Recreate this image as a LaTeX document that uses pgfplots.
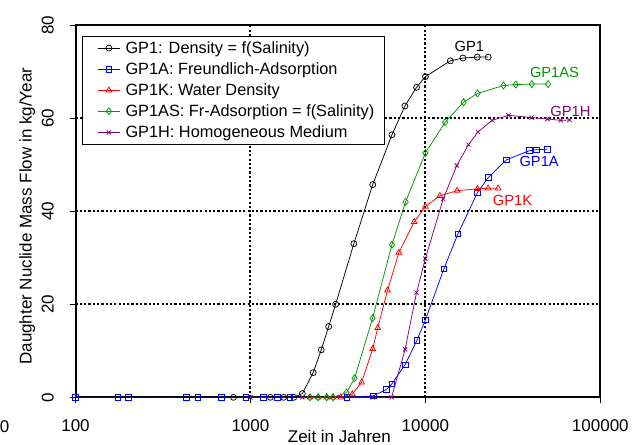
\documentclass[border=0pt]{standalone}
\usepackage{fontspec}
\setmainfont{Liberation Sans}
\usepackage{pgfplots}
\pgfplotsset{compat=1.18}
\definecolor{cgreen}{RGB}{0,150,0}
\definecolor{cpurple}{RGB}{128,0,128}
\begin{document}
\begin{tikzpicture}
\begin{axis}[
  scale only axis, width=524.8bp, height=372.3bp,
  xmode=log, log basis x=10,
  xmin=100, xmax=100000, ymin=0, ymax=80,
  xtick={100,1000,10000,100000},
  xticklabels={100,1000,10000,100000},
  ytick={0,20,40,60,80},
  /pgf/number format/assume math mode=true,
  tick align=outside, tick pos=left,
  major tick length=6bp, minor tick length=5bp,
  every tick/.style={black, line width=0.8bp},
  axis line style={line width=2bp},
  grid=major,
  grid style={black, line width=2bp, dash pattern=on 2.2bp off 2.1bp},
  tick label style={font=\fontsize{17bp}{20bp}\selectfont},
  xticklabel style={anchor=base, yshift=-28bp},
  yticklabel style={xshift=-16bp, rotate=90, anchor=base},
  clip=false,
  legend cell align=left,
  legend style={at={(rel axis cs:0,1)}, anchor=north west, xshift=6.8bp, yshift=-11bp,
    draw=black, line width=0.8bp, font=\fontsize{16.3bp}{19bp}\selectfont,
    row sep=6.8bp, inner xsep=8.5bp, inner ysep=4.5bp,
    nodes={inner xsep=2bp, inner ysep=0.5bp}},
  legend image code/.code={\path (0bp,0bp) (31.6bp,0bp); \draw[mark repeat=2,mark phase=2] plot coordinates {(6bp,0bp) (17.3bp,0bp) (28.6bp,0bp)};},
]
\addplot[black, line width=0.75bp, mark=o, mark size=3bp, mark options={solid, fill=white}] coordinates {
(800,0)(1300,0)(1550,0)(1770,0)(1980,0.8)(2285,5.3)(2540,10.2)(2800,15.2)(3070,20)(3900,33)(5000,45.7)(6440,56.4)(7640,62.6)(8900,66.6)(10000,68.9)(13900,72.3)(16400,72.9)(19800,73.1)(22850,73.1)};
\addlegendentry{GP1: Density = f(Salinity)}
\addplot[blue, line width=0.75bp, mark=square, mark size=2.8bp, mark options={solid, fill=white}] coordinates {
(100,0)(175,0)(200,0)(430,0)(500,0)(680,0)(940,0)(1185,0)(1430,0)(1680,0)(3550,0)(5030,0.3)(6000,1.7)(6440,2.9)(7660,7)(8940,12.2)(10000,16.6)(12760,27.6)(15340,35.1)(19870,44)(22850,47.2)(28950,51)(39400,53)(43200,53.2)(49900,53.3)};
\addlegendentry{GP1A: Freundlich-Adsorption}
\addplot[red, line width=0.75bp, mark=triangle, mark size=3.3bp, mark options={solid, fill=white}] coordinates {
(2190,0)(2440,0)(2730,0)(2970,0)(3280,0)(3820,0.7)(4320,3.2)(5000,10.4)(5340,14.9)(6080,23)(7060,31.1)(8630,37.7)(10000,41)(12100,43.3)(15200,44.4)(19870,44.8)(22850,44.9)(26060,44.9)};
\addlegendentry{GP1K: Water Density}
\addplot[cgreen, line width=0.75bp, mark=diamond, mark size=3.5bp, mark options={solid, fill=white}] coordinates {
(2190,0)(2440,0)(2730,0)(2970,0)(3540,1)(3940,4.1)(4990,17)(6440,32.8)(7710,42)(10000,52.5)(12970,59.1)(16530,63.4)(19870,65.3)(27970,67)(32890,67.2)(40610,67.3)(50300,67.3)};
\addlegendentry{GP1AS: Fr-Adsorption = f(Salinity)}
\addplot[cpurple, line width=0.75bp, mark=x, mark size=2.9bp, mark options={solid}] coordinates {
(1000,0)(1980,0)(5000,0)(6410,0)(7660,10.3)(8900,22.5)(10000,29.8)(12640,42.6)(15120,49.8)(17650,54.3)(19960,57)(24050,59.5)(29880,60.6)(40450,60.1)(49900,59.8)(59440,59.5)(66690,59.6)};
\addlegendentry{GP1H: Homogeneous Medium}
\node[anchor=base, font=\fontsize{14.7bp}{17bp}\selectfont, black] at (axis cs:17840,74.3) {GP1};
\node[anchor=base, font=\fontsize{14.7bp}{17bp}\selectfont, cgreen] at (axis cs:54730,68.8) {GP1AS};
\node[anchor=base, font=\fontsize{14.7bp}{17bp}\selectfont, cpurple] at (axis cs:67550,60.34) {GP1H};
\node[anchor=base, font=\fontsize{14.7bp}{17bp}\selectfont, blue] at (axis cs:44700,49.6) {GP1A};
\node[anchor=base, font=\fontsize{14.7bp}{17bp}\selectfont, red] at (axis cs:31500,41.14) {GP1K};
\end{axis}
\node[rotate=90, anchor=base, font=\fontsize{17bp}{20bp}\selectfont] at ([xshift=-43.8bp, yshift=-5bp]current axis.west) {Daughter Nuclide Mass Flow in kg/Year};
\node[anchor=base, inner sep=0pt, font=\fontsize{17bp}{20bp}\selectfont] at ([xshift=1.5bp, yshift=-45.2bp]current axis.south) {Zeit in Jahren};
\node[anchor=base east, inner sep=0pt, font=\fontsize{17bp}{20bp}\selectfont] at ([xshift=-66bp, yshift=-34.7bp]current axis.south west) {0};
\pgfresetboundingbox
\path[use as bounding box] ([xshift=-75.5bp, yshift=-47.7bp]current axis.south west) rectangle ([xshift=41.7bp, yshift=25bp]current axis.north east);
\end{tikzpicture}
\end{document}
